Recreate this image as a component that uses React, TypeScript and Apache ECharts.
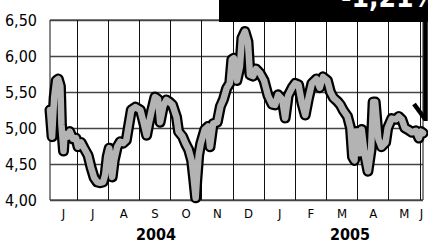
import React, { useEffect, useRef } from "react";
import * as echarts from "echarts";

const dates: string[] = [
  "2004-06-05", "2004-06-07", "2004-06-09", "2004-06-11", "2004-06-13", "2004-06-15", "2004-06-16", "2004-06-18",
  "2004-06-19", "2004-06-22", "2004-06-24", "2004-06-27", "2004-06-30",
  "2004-07-02", "2004-07-05", "2004-07-08", "2004-07-12", "2004-07-15", "2004-07-18", "2004-07-21", "2004-07-24",
  "2004-07-27", "2004-07-29", "2004-07-31",
  "2004-08-02", "2004-08-04", "2004-08-05", "2004-08-07", "2004-08-10", "2004-08-13", "2004-08-16", "2004-08-19",
  "2004-08-21", "2004-08-24", "2004-08-28",
  "2004-09-02", "2004-09-05", "2004-09-08", "2004-09-10", "2004-09-13", "2004-09-16", "2004-09-19", "2004-09-21",
  "2004-09-24", "2004-09-27", "2004-09-30",
  "2004-10-03", "2004-10-07", "2004-10-09", "2004-10-13", "2004-10-16", "2004-10-19", "2004-10-22", "2004-10-24",
  "2004-10-26", "2004-10-27", "2004-10-29", "2004-10-31",
  "2004-11-04", "2004-11-07", "2004-11-09", "2004-11-12", "2004-11-16", "2004-11-19", "2004-11-22", "2004-11-25",
  "2004-11-28", "2004-11-30",
  "2004-12-02", "2004-12-05", "2004-12-08", "2004-12-10", "2004-12-13", "2004-12-16", "2004-12-18", "2004-12-21",
  "2004-12-24", "2004-12-28",
  "2005-01-01", "2005-01-05", "2005-01-09", "2005-01-12", "2005-01-15", "2005-01-19", "2005-01-22", "2005-01-25",
  "2005-01-29",
  "2005-02-01", "2005-02-04", "2005-02-07", "2005-02-10", "2005-02-13", "2005-02-16", "2005-02-20", "2005-02-23",
  "2005-02-26",
  "2005-03-02", "2005-03-05", "2005-03-08", "2005-03-12", "2005-03-15", "2005-03-18", "2005-03-22", "2005-03-25",
  "2005-03-27", "2005-03-29", "2005-03-30",
  "2005-04-02", "2005-04-03", "2005-04-05", "2005-04-08", "2005-04-11", "2005-04-14", "2005-04-16", "2005-04-18",
  "2005-04-21", "2005-04-24", "2005-04-28", "2005-04-30",
  "2005-05-04", "2005-05-08", "2005-05-11", "2005-05-14", "2005-05-17", "2005-05-21", "2005-05-24", "2005-05-28",
  "2005-05-31",
  "2005-06-02", "2005-06-04",
];

const values: number[] = [
  5.25, 4.88, 5.42, 5.66, 5.68, 5.58, 5.05, 4.68,
  4.92, 4.88, 4.95, 4.85, 4.86,
  4.74, 4.80, 4.72, 4.62, 4.45, 4.31, 4.25, 4.24,
  4.25, 4.35, 4.60,
  4.72, 4.55, 4.32, 4.55, 4.74, 4.81, 4.79, 4.83,
  5.00, 5.25, 5.29,
  5.25, 5.08, 4.90, 5.05, 5.25, 5.43, 5.40, 5.08,
  5.30, 5.39, 5.36,
  5.32, 5.15, 4.95, 4.88, 4.78, 4.70, 4.55, 4.30,
  4.03, 4.25, 4.62, 4.78,
  4.98, 5.02, 4.74, 5.06, 5.08, 5.30, 5.40, 5.55,
  5.62, 5.95,
  5.97, 5.66, 5.85, 6.25, 6.34, 6.20, 5.74, 5.72,
  5.82, 5.76,
  5.66, 5.45, 5.33, 5.32, 5.46, 5.40, 5.14, 5.45,
  5.56,
  5.62, 5.60, 5.35, 5.18, 5.42, 5.62, 5.68, 5.56,
  5.71,
  5.66, 5.50, 5.42, 5.37, 5.32, 5.24, 5.16, 5.00,
  4.60, 4.55, 4.95,
  4.95, 4.65, 4.98, 4.62, 4.40, 4.70, 5.36, 5.36,
  4.85, 4.74, 4.80, 5.00,
  5.13, 5.12, 5.16, 5.12, 5.00, 4.97, 4.94, 4.96,
  4.86,
  4.95, 4.93,
];

const monthLetters: string[] = ["J", "J", "A", "S", "O", "N", "D", "J", "F", "M", "A", "M", "J"];
const yearLabels: string[] = ["2004", "2005"];
const changeLabel = "-1,21%";
const axisStart = "2004-06-05";
const axisEnd = "2005-06-04";

const FONT = "'DejaVu Sans Condensed', 'Liberation Sans Narrow', sans-serif";

function daysIn(y: number, m: number) {
  return new Date(y, m, 0).getDate();
}
// months elapsed since 1 June 2004
function toPos(s: string) {
  const [y, m, d] = s.split("-").map(Number);
  return (y - 2004) * 12 + (m - 6) + (d - 1) / daysIn(y, m);
}

export default function App() {
  const ref = useRef<HTMLDivElement>(null);
  useEffect(() => {
    if (!ref.current) return;
    const chart = echarts.init(ref.current, null, { renderer: "svg" });
    const xMin = toPos(axisStart);
    const xMax = toPos(axisEnd);
    const monthStarts: number[] = [];
    for (let k = 1; k <= 12; k++) monthStarts.push(k);
    const labelPos: number[] = [(xMin + 1) / 2];
    for (let k = 1; k <= 11; k++) labelPos.push(k + 0.5);
    labelPos.push((12 + xMax) / 2);
    const data = dates.map((d, i) => [toPos(d), values[i]]);

    chart.setOption({
      animation: false,
      grid: {
        left: 50,
        right: 5,
        top: 20,
        bottom: 43,
        show: true,
        borderColor: "#111",
        borderWidth: 1,
        backgroundColor: "transparent",
      },
      xAxis: {
        type: "value",
        min: xMin,
        max: xMax,
        axisLine: { show: false },
        axisTick: { show: false, customValues: monthStarts },
        splitLine: { show: true, lineStyle: { color: "#111", width: 1 } },
        axisLabel: {
          customValues: labelPos,
          formatter: (v: number) => monthLetters[Math.min(12, Math.max(0, Math.floor(v)))],
          fontFamily: FONT,
          fontSize: 13,
          color: "#000",
          margin: 7,
        },
      },
      yAxis: {
        type: "value",
        min: 4,
        max: 6.5,
        interval: 0.5,
        axisLine: { show: false },
        axisTick: { show: false },
        splitLine: { show: true, lineStyle: { color: "#444", width: 1.3 } },
        axisLabel: {
          formatter: (v: number) => v.toFixed(2).replace(".", ","),
          fontFamily: FONT,
          fontSize: 16,
          color: "#000",
          margin: 13,
        },
      },
      series: [
        {
          type: "line",
          data,
          symbol: "none",
          lineStyle: { color: "#000", width: 11, join: "round", cap: "round" },
          z: 3,
        },
        {
          type: "line",
          data,
          symbol: "none",
          lineStyle: { color: "#b3b3b3", width: 6.5, join: "round", cap: "round" },
          z: 4,
        },
      ],
      graphic: [
        {
          type: "rect",
          z: 100,
          shape: { x: 219, y: 0, width: 209, height: 22 },
          style: { fill: "#000" },
        },
        {
          type: "text",
          z: 101,
          x: 341,
          y: -2.5,
          style: {
            text: changeLabel,
            fill: "#fff",
            font: `bold 28px ${FONT}`,
            textAlign: "left",
            textVerticalAlign: "middle",
          },
        },
        {
          type: "line",
          z: 100,
          shape: { x1: 425.5, y1: 20, x2: 425.5, y2: 121 },
          style: { stroke: "#000", lineWidth: 4.5 },
        },
        {
          type: "line",
          z: 100,
          shape: { x1: 414, y1: 104, x2: 425, y2: 119 },
          style: { stroke: "#000", lineWidth: 4.5 },
        },
        {
          type: "text",
          z: 100,
          x: 156,
          y: 234,
          style: {
            text: yearLabels[0],
            fill: "#000",
            font: `bold 16px ${FONT}`,
            textAlign: "center",
            textVerticalAlign: "middle",
          },
        },
        {
          type: "text",
          z: 100,
          x: 350,
          y: 234,
          style: {
            text: yearLabels[1],
            fill: "#000",
            font: `bold 16px ${FONT}`,
            textAlign: "center",
            textVerticalAlign: "middle",
          },
        },
      ],
    });
    return () => chart.dispose();
  }, []);
  return (
    <div
      ref={ref}
      style={{ position: "fixed", left: 0, top: 0, width: 428, height: 243, background: "#fff" }}
    />
  );
}
